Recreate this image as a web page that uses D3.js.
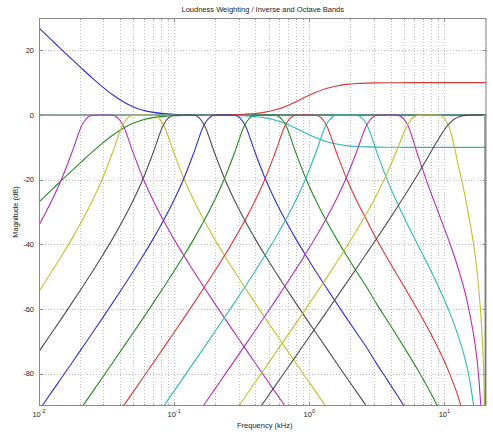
<!DOCTYPE html>
<html><head><meta charset="utf-8">
<script src="https://cdn.jsdelivr.net/npm/d3@7"></script>
<style>
body{margin:0;background:#fff;}
svg text{font-family:"Liberation Sans",Arial,Helvetica,sans-serif;fill:#222;}
</style></head><body>
<svg id="chart" width="493" height="435"></svg>
<script>
const _ = null;
// frequency grid (kHz) at which curve values were read
const freqKHz = [0.00877,0.01043,0.0124,0.01475,0.01754,0.02086,0.02481,0.0295,0.03508,0.04172,0.04961,0.059,0.07016,0.08344,0.09923,0.118,0.1403,0.1669,0.1984,0.236,0.2807,0.3338,0.3969,0.472,0.5613,0.6675,0.7938,0.944,1.1226,1.335,1.5876,1.888,2.245,2.67,3.175,3.776,4.49,5.34,6.35,7.552,8.981,10.681,12.702,15.104,17.962,19.0,19.6,20.0,20.3];

// loudness weighting curves (dB)
const invLowDb  = [29.17,26.16,23.17,20.17,17.21,14.28,11.42,8.72,6.25,4.17,2.57,1.47,0.80,0.42,0.21,0.11,0.05,0.03,0.01,0,0,0,0,0,0,0,0,0,0,0,0,0,0,0,0,0,0,0,0,0,0,0,0,0,0,0,0,0,0];
const wLowDb    = [-29.17,-26.16,-23.17,-20.17,-17.21,-14.28,-11.42,-8.72,-6.25,-4.17,-2.57,-1.47,-0.80,-0.42,-0.21,-0.11,-0.05,-0.03,-0.01,0,0,0,0,0,0,0,0,0,0,0,0,0,0,0,0,0,0,0,0,0,0,0,0,0,0,0,0,0,0];
const invHighDb = [0,0,0,0,0,0,0,0,0,0,0,0,0,0,0,0,0,0.02,0.03,0.06,0.12,0.25,0.47,0.89,1.60,2.66,4.06,5.61,7.06,8.21,8.99,9.46,9.72,9.86,9.93,9.96,9.98,10,10,10,10,10,10,10,10,10,10,10,10];
const wHighDb   = [0,0,0,0,0,0,0,0,0,0,0,0,0,0,0,0,0,-0.02,-0.03,-0.06,-0.12,-0.25,-0.47,-0.89,-1.60,-2.66,-4.06,-5.61,-7.06,-8.21,-8.99,-9.46,-9.72,-9.86,-9.93,-9.96,-9.98,-10,-10,-10,-10,-10,-10,-10,-10,-10,-10,-10,-10];

// octave band responses (dB)
const band1Db  = [-38.23,-32.65,-26.55,-19.64,-11.53,-3.01,-0.06,0,-0.06,-3.01,-11.53,-19.64,-26.55,-32.65,-38.23,-43.47,-48.49,-53.36,-58.12,-62.81,-67.44,-72.04,-76.62,-81.18,-85.72,-90.25,-94.79,_,_,_,_,_,_,_,_,_,_,_,_,_,_,_,_,_,_,_,_,_,_];
const band2Db  = [-58.12,-53.36,-48.49,-43.47,-38.23,-32.65,-26.55,-19.64,-11.53,-3.01,-0.06,0,-0.06,-3.01,-11.53,-19.64,-26.55,-32.65,-38.23,-43.47,-48.49,-53.36,-58.12,-62.81,-67.44,-72.04,-76.62,-81.18,-85.72,-90.25,-94.79,_,_,_,_,_,_,_,_,_,_,_,_,_,_,_,_,_,_];
const band3Db  = [-76.62,-72.04,-67.44,-62.81,-58.12,-53.36,-48.49,-43.47,-38.23,-32.65,-26.55,-19.64,-11.53,-3.01,-0.06,0,-0.06,-3.01,-11.53,-19.64,-26.55,-32.65,-38.23,-43.47,-48.49,-53.36,-58.12,-62.81,-67.44,-72.04,-76.62,-81.18,-85.72,-90.25,-95.31,_,_,_,_,_,_,_,_,_,_,_,_,_,_];
const band4Db  = [-94.79,-90.25,-85.72,-81.18,-76.62,-72.04,-67.44,-62.81,-58.12,-53.36,-48.49,-43.47,-38.23,-32.65,-26.55,-19.64,-11.53,-3.01,-0.06,0,-0.06,-3.01,-11.53,-19.64,-26.55,-32.65,-38.23,-43.47,-48.49,-53.36,-58.12,-62.81,-67.44,-72.04,-77.14,-81.92,-86.77,-91.77,_,_,_,_,_,_,_,_,_,_,_];
const band5Db  = [_,_,_,_,-94.79,-90.25,-85.72,-81.18,-76.62,-72.04,-67.44,-62.81,-58.12,-53.36,-48.49,-43.47,-38.23,-32.65,-26.55,-19.64,-11.53,-3.01,-0.06,0,-0.06,-3.01,-11.53,-19.64,-26.55,-32.65,-38.23,-43.47,-48.49,-53.36,-58.64,-63.55,-68.49,-73.56,-78.80,-84.34,-90.36,-97.19,_,_,_,_,_,_,_];
const band6Db  = [_,_,_,_,_,_,_,_,-94.79,-90.25,-85.72,-81.18,-76.62,-72.04,-67.44,-62.81,-58.12,-53.36,-48.49,-43.47,-38.23,-32.65,-26.55,-19.64,-11.53,-3.01,-0.06,0,-0.06,-3.01,-11.53,-19.64,-26.55,-32.65,-38.75,-44.21,-49.54,-54.88,-60.30,-65.97,-72.08,-78.98,-87.36,-98.84,_,_,_,_,_];
const band7Db  = [_,_,_,_,_,_,_,_,_,_,_,_,-94.61,-90.07,-85.54,-80.99,-76.44,-71.86,-67.27,-62.63,-57.94,-53.18,-48.32,-43.31,-38.07,-32.50,-26.41,-19.54,-11.46,-3.01,-0.06,0,-0.06,-3.01,-11.70,-20.07,-27.30,-33.86,-40.11,-46.34,-52.83,-60.00,-68.54,-80.13,-101.09,_,_,_,_];
const band8Db  = [_,_,_,_,_,_,_,_,_,_,_,_,_,_,_,_,-94.07,-89.53,-85.00,-80.45,-75.89,-71.32,-66.73,-62.09,-57.41,-52.66,-47.81,-42.81,-37.60,-32.06,-26.03,-19.23,-11.28,-3.01,-0.07,0,-0.05,-3.01,-12.30,-21.51,-29.92,-38.32,-47.66,-59.75,-80.99,-94.96,_,_,_];
const band9Db  = [_,_,_,_,_,_,_,_,_,_,_,_,_,_,_,_,_,_,_,_,-91.81,-87.28,-82.75,-78.21,-73.66,-69.10,-64.51,-59.89,-55.24,-50.52,-45.71,-40.77,-35.65,-30.24,-24.41,-17.91,-10.49,-3.01,-0.11,0,-0.02,-3.01,-15.70,-30.88,-53.72,-67.94,-81.43,-96.82,_];
const band10Db = [_,_,_,_,_,_,_,_,_,_,_,_,_,_,_,_,_,_,_,_,_,-97.3,-92.73,-88.21,-83.69,-79.17,-74.65,-70.12,-65.58,-61.04,-56.49,-51.92,-47.33,-42.70,-38.04,-33.30,-28.47,-23.51,-18.38,-13.04,-7.64,-3.01,-0.60,-0.05,0,0,0,0,-300];

// axis ticks
const yTickValues = [-80,-60,-40,-20,0,20];
const xDecadeTicks = [0.01,0.1,1,10];
const xDecadeExp = ["-2","-1","0","1"];
const titleText = "Loudness Weighting / Inverse and Octave Bands";
const xLabelText = "Frequency (kHz)";
const yLabelText = "Magnitude (dB)";

// ---- drawing ----
const series = [invLowDb,wLowDb,invHighDb,wHighDb,band1Db,band2Db,band3Db,band4Db,band5Db,band6Db,band7Db,band8Db,band9Db,band10Db];
const palette = ["#2f2fcc","#238823","#dc3535","#2cb8b8","#b82cb8","#c0c02a","#4c4c4c"];

const L=39, T=18, R=486.5, B=406;
const svg = d3.select("#chart");
const x = d3.scaleLog().domain([0.01, 20.5]).range([L, R]);
const y = d3.scaleLinear().domain([-90, 30]).range([B, T]);

svg.append("defs").append("clipPath").attr("id","clip")
  .append("rect").attr("x",L).attr("y",T).attr("width",R-L).attr("height",B-T);

// grid
const gridVals = [];
xDecadeTicks.forEach(d => { for (let k=1;k<=9;k++){ const v=d*k; if (v<=20.5) gridVals.push(v);} });
const grid = svg.append("g");
grid.selectAll("line.v").data(gridVals.filter(v=>v>0.0101)).enter().append("line")
  .attr("x1",d=>Math.round(x(d))+0.5).attr("x2",d=>Math.round(x(d))+0.5)
  .attr("y1",T).attr("y2",B)
  .attr("stroke","#bdbdbd").attr("stroke-width",1).attr("stroke-dasharray","1,2");
grid.selectAll("line.h").data(yTickValues).enter().append("line")
  .attr("x1",L).attr("x2",R)
  .attr("y1",d=>Math.round(y(d))+0.5).attr("y2",d=>Math.round(y(d))+0.5)
  .attr("stroke","#bdbdbd").attr("stroke-width",1).attr("stroke-dasharray","1,2");

// curves
const line = d3.line()
  .defined(d => d[1] !== null)
  .x(d => x(d[0])).y(d => y(d[1]))
  .curve(d3.curveMonotoneX);
const plot = svg.append("g").attr("clip-path","url(#clip)");
series.forEach((s,i) => {
  const pts = freqKHz.map((f,j)=>[f,s[j]]);
  plot.append("path").attr("d", line(pts))
    .attr("fill","none").attr("stroke", palette[i % 7]).attr("stroke-width",1.1);
});

// box
const ax = svg.append("g").attr("stroke","#8a8a8a").attr("stroke-width",1).attr("fill","none");
ax.append("rect").attr("x",L+0.5).attr("y",T+0.5).attr("width",R-L-1).attr("height",B-T-1);
// ticks
xDecadeTicks.forEach(d => {
  for (let k=1;k<=9;k++){
    const v=d*k; if (v>20.5) continue;
    const px=Math.round(x(v))+0.5, len = k===1?4:2;
    ax.append("line").attr("x1",px).attr("x2",px).attr("y1",B).attr("y2",B-len);
    ax.append("line").attr("x1",px).attr("x2",px).attr("y1",T).attr("y2",T+len);
  }
});
yTickValues.forEach(v => {
  const py=Math.round(y(v))+0.5;
  ax.append("line").attr("x1",L).attr("x2",L+4).attr("y1",py).attr("y2",py);
  ax.append("line").attr("x1",R).attr("x2",R-4).attr("y1",py).attr("y2",py);
});

// tick labels
svg.selectAll("text.yt").data(yTickValues).enter().append("text")
  .attr("x",L-5).attr("y",d=>y(d)+2.7).attr("text-anchor","end")
  .attr("font-size",7.5).attr("fill","#444").text(d=>d);
xDecadeTicks.forEach((d,i) => {
  const t = svg.append("text").attr("x",x(d)).attr("y",416.5).attr("text-anchor","middle").attr("font-size",7.5).attr("fill","#444");
  t.append("tspan").text("10");
  t.append("tspan").attr("dy",-3.5).attr("font-size",5.5).text(xDecadeExp[i]);
});

// titles
svg.append("text").attr("x",(L+R)/2).attr("y",12).attr("text-anchor","middle").attr("font-size",7.5).text(titleText);
svg.append("text").attr("x",(L+R)/2+2).attr("y",428).attr("text-anchor","middle").attr("font-size",7.5).text(xLabelText);
svg.append("text").attr("transform",`translate(18,${(T+B)/2}) rotate(-90)`).attr("text-anchor","middle").attr("font-size",7.5).text(yLabelText);
</script>
</body></html>
